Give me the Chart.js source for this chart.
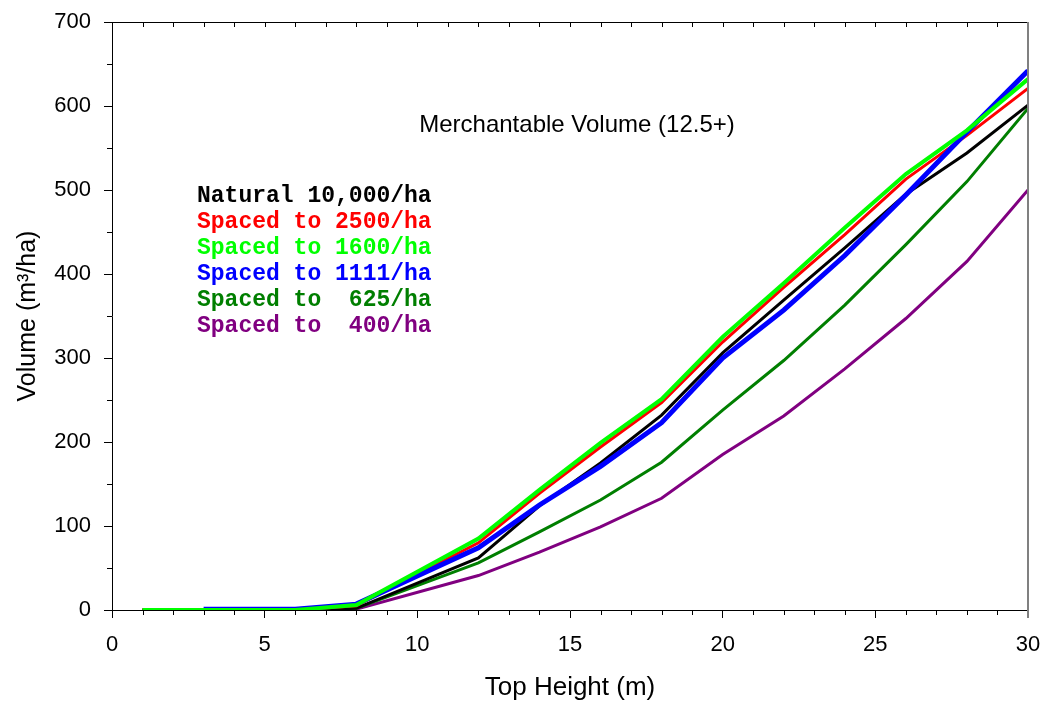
<!DOCTYPE html>
<html lang="en">
<head>
    <meta charset="UTF-8">
    <title>Merchantable Volume (12.5+)</title>
    <script src="https://cdn.jsdelivr.net/npm/chart.js"></script>
    <style>
        body { margin: 0; background: #fff; }
    </style>
</head>
<body>

    <canvas id="volChart" width="1044" height="702"></canvas>

    <script>
        // top height (m) where the volumes were read
        const heights = [1, 3, 6, 8, 12, 14, 16, 18, 20, 22, 24, 26, 28, 30];

        // merchantable volume (m3/ha) per treatment
        const natural10000 = [0, 0, 0, 2, 62, 124, 175, 232, 306, 369, 431, 495, 544, 601];
        const spaced2500 = [0, 0, 0, 5, 80, 139, 194, 247, 319, 384, 447, 513, 565, 621];
        const spaced1600 = [0, 0, 0, 6, 85, 143, 199, 251, 325, 389, 455, 519, 571, 632];
        const spaced1111 = [null, 1, 1, 7, 74, 125, 171, 223, 300, 357, 422, 494, 569, 642];
        const spaced625 = [0, 0, 0, 2, 56, 93, 131, 176, 238, 297, 363, 435, 510, 597];
        const spaced400 = [0, 0, 0, 1, 41, 69, 99, 133, 185, 231, 287, 347, 415, 500];

        const seriesNames = ['Natural 10,000/ha', 'Spaced to 2500/ha', 'Spaced to 1600/ha',
            'Spaced to 1111/ha', 'Spaced to  625/ha', 'Spaced to  400/ha'];
        const seriesValues = [natural10000, spaced2500, spaced1600, spaced1111, spaced625, spaced400];
        const seriesColors = ['#000000', '#ff0000', '#00ff00', '#0000ff', '#007f00', '#800080'];
        const lineWidths = [3, 3, 4, 5, 3, 3];
        const drawOrder = [3, 2, 0, 1, 4, 5];   // lower = drawn on top

        const yTicks = [0, 100, 200, 300, 400, 500, 600, 700];
        const xTicks = [0, 5, 10, 15, 20, 25, 30];
        const chartTitle = 'Merchantable Volume (12.5+)';

        // keep the plot box fixed: no extra room for overhanging labels
        function noOverhang(s) {
            s.paddingLeft = 0;
            s.paddingRight = 0;
            s.paddingTop = 0;
            s.paddingBottom = 0;
        }

        // minor ticks, top border, grey right border, title and text legend
        const decorations = {
            id: 'decorations',
            afterDraw(chart) {
                const ctx = chart.ctx;
                const a = chart.chartArea;
                const xs = chart.scales.x;
                const ys = chart.scales.y;
                ctx.save();
                ctx.strokeStyle = '#000';
                ctx.lineWidth = 1;
                ctx.beginPath();
                for (let v = 1; v < 30; v++) {
                    if (v % 5 === 0) continue;
                    const px = Math.round(xs.getPixelForValue(v)) + 0.5;
                    ctx.moveTo(px, a.bottom);
                    ctx.lineTo(px, a.bottom + 5);
                }
                for (let v = 1; v < 30; v++) {
                    const px = Math.round(xs.getPixelForValue(v)) + 0.5;
                    ctx.moveTo(px, a.top);
                    ctx.lineTo(px, a.top + 5);
                }
                for (let v = 50; v < 700; v += 100) {
                    const py = Math.round(ys.getPixelForValue(v)) + 0.5;
                    ctx.moveTo(a.left, py);
                    ctx.lineTo(a.left - 5, py);
                }
                const top = Math.round(a.top) + 0.5;
                ctx.moveTo(a.left - 8, top);
                ctx.lineTo(a.right, top);
                ctx.stroke();

                ctx.strokeStyle = '#808080';
                ctx.lineWidth = 2;
                ctx.beginPath();
                ctx.moveTo(a.right, a.top);
                ctx.lineTo(a.right, a.bottom + 8);
                ctx.stroke();

                ctx.fillStyle = '#000';
                ctx.font = '24px "Liberation Sans", Arial, sans-serif';
                ctx.textAlign = 'center';
                ctx.textBaseline = 'middle';
                ctx.fillText(chartTitle, a.left + 465, a.top + 103);

                ctx.font = 'bold 23px "Liberation Mono", "Courier New", monospace';
                ctx.textAlign = 'left';
                seriesNames.forEach((name, i) => {
                    ctx.fillStyle = seriesColors[i];
                    ctx.fillText(name, a.left + 85, a.top + 174 + i * 26);
                });
                ctx.restore();
            }
        };

        const ctx = document.getElementById('volChart').getContext('2d');
        new Chart(ctx, {
            type: 'line',
            data: {
                datasets: seriesNames.map((name, i) => ({
                    label: name,
                    data: heights.map((h, j) => ({ x: h, y: seriesValues[i][j] })),
                    borderColor: seriesColors[i],
                    backgroundColor: seriesColors[i],
                    borderWidth: lineWidths[i],
                    order: drawOrder[i],
                    pointRadius: 0,
                    tension: 0,
                    fill: false
                }))
            },
            options: {
                responsive: false,
                animation: false,
                layout: { padding: { top: 22, right: 16, left: 0, bottom: 0 } },
                plugins: {
                    legend: { display: false },
                    tooltip: { enabled: false }
                },
                scales: {
                    x: {
                        type: 'linear',
                        min: 0, max: 30,
                        afterBuildTicks: s => { s.ticks = xTicks.map(v => ({ value: v })); },
                        afterFit: s => { s.height = 92; noOverhang(s); },
                        grid: { drawOnChartArea: false, tickLength: 8, color: '#000', tickWidth: 1 },
                        border: { color: '#000', width: 1 },
                        ticks: {
                            color: '#000', padding: 14, maxRotation: 0,
                            font: { family: '"Liberation Sans", Arial, sans-serif', size: 22 }
                        },
                        title: {
                            display: true, text: 'Top Height (m)', color: '#000',
                            padding: { top: 6, bottom: -1 },
                            font: { family: '"Liberation Sans", Arial, sans-serif', size: 26 }
                        }
                    },
                    y: {
                        min: 0, max: 700,
                        afterBuildTicks: s => { s.ticks = yTicks.map(v => ({ value: v })); },
                        afterFit: s => { s.width = 112; noOverhang(s); },
                        grid: { drawOnChartArea: false, tickLength: 8, color: '#000', tickWidth: 1 },
                        border: { color: '#000', width: 1 },
                        ticks: {
                            color: '#000', padding: 13,
                            font: { family: '"Liberation Sans", Arial, sans-serif', size: 22 }
                        },
                        title: {
                            display: true, text: 'Volume (m³/ha)', color: '#000',
                            padding: { top: 13, bottom: 4 },
                            font: { family: '"Liberation Sans", Arial, sans-serif', size: 25 }
                        }
                    }
                }
            },
            plugins: [decorations]
        });
    </script>
</body>
</html>
